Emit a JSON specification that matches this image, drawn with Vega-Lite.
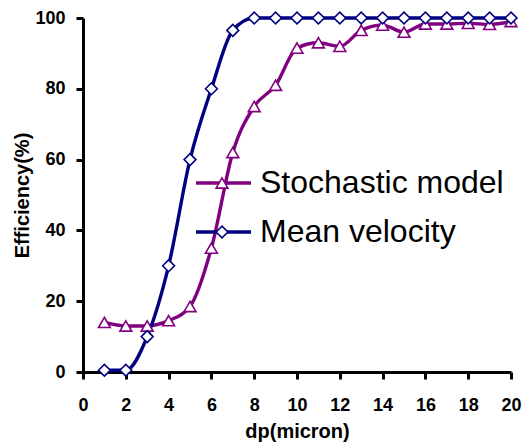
{
  "$schema": "https://vega.github.io/schema/vega-lite/v6.json",
  "width": 428,
  "height": 354,
  "autosize": "none",
  "padding": {"left": 83, "top": 18, "right": 14, "bottom": 75},
  "background": "white",
  "config": {
    "view": {"stroke": null},
    "font": "Liberation Sans",
    "axis": {
      "grid": false,
      "labelFlush": false,
      "domainColor": "black",
      "domainWidth": 3,
      "tickColor": "black",
      "tickWidth": 3,
      "tickSize": 7,
      "labelFont": "Liberation Sans",
      "labelFontWeight": "bold",
      "labelFontSize": 18,
      "labelColor": "black",
      "titleFont": "Liberation Sans",
      "titleFontWeight": "bold",
      "titleFontSize": 20,
      "titleColor": "black"
    }
  },
  "data": {
    "values": [
      {"dp": 1, "eff": 14, "series": "Stochastic model"},
      {"dp": 2, "eff": 13, "series": "Stochastic model"},
      {"dp": 3, "eff": 13, "series": "Stochastic model"},
      {"dp": 4, "eff": 14.5, "series": "Stochastic model"},
      {"dp": 5, "eff": 18.5, "series": "Stochastic model"},
      {"dp": 6, "eff": 35, "series": "Stochastic model"},
      {"dp": 7, "eff": 62, "series": "Stochastic model"},
      {"dp": 8, "eff": 75, "series": "Stochastic model"},
      {"dp": 9, "eff": 81, "series": "Stochastic model"},
      {"dp": 10, "eff": 91.5, "series": "Stochastic model"},
      {"dp": 11, "eff": 93, "series": "Stochastic model"},
      {"dp": 12, "eff": 92, "series": "Stochastic model"},
      {"dp": 13, "eff": 96.5, "series": "Stochastic model"},
      {"dp": 14, "eff": 98, "series": "Stochastic model"},
      {"dp": 15, "eff": 96, "series": "Stochastic model"},
      {"dp": 16, "eff": 98.3, "series": "Stochastic model"},
      {"dp": 17, "eff": 98.3, "series": "Stochastic model"},
      {"dp": 18, "eff": 98.5, "series": "Stochastic model"},
      {"dp": 19, "eff": 98.2, "series": "Stochastic model"},
      {"dp": 20, "eff": 99, "series": "Stochastic model"},
      {"dp": 1, "eff": 0.5, "series": "Mean velocity"},
      {"dp": 2, "eff": 0.5, "series": "Mean velocity"},
      {"dp": 3, "eff": 10, "series": "Mean velocity"},
      {"dp": 4, "eff": 30, "series": "Mean velocity"},
      {"dp": 5, "eff": 60, "series": "Mean velocity"},
      {"dp": 6, "eff": 80, "series": "Mean velocity"},
      {"dp": 7, "eff": 96.5, "series": "Mean velocity"},
      {"dp": 8, "eff": 100, "series": "Mean velocity"},
      {"dp": 9, "eff": 100, "series": "Mean velocity"},
      {"dp": 10, "eff": 100, "series": "Mean velocity"},
      {"dp": 11, "eff": 100, "series": "Mean velocity"},
      {"dp": 12, "eff": 100, "series": "Mean velocity"},
      {"dp": 13, "eff": 100, "series": "Mean velocity"},
      {"dp": 14, "eff": 100, "series": "Mean velocity"},
      {"dp": 15, "eff": 100, "series": "Mean velocity"},
      {"dp": 16, "eff": 100, "series": "Mean velocity"},
      {"dp": 17, "eff": 100, "series": "Mean velocity"},
      {"dp": 18, "eff": 100, "series": "Mean velocity"},
      {"dp": 19, "eff": 100, "series": "Mean velocity"},
      {"dp": 20, "eff": 100, "series": "Mean velocity"}
    ]
  },
  "encoding": {
    "x": {
      "field": "dp",
      "type": "quantitative",
      "scale": {"domain": [0, 20], "nice": false},
      "axis": {"values": [0, 2, 4, 6, 8, 10, 12, 14, 16, 18, 20], "title": "dp(micron)", "labelPadding": 17, "titlePadding": 7}
    },
    "y": {
      "field": "eff",
      "type": "quantitative",
      "scale": {"domain": [0, 100], "nice": false},
      "axis": {"values": [0, 20, 40, 60, 80, 100], "title": "Efficiency(%)", "labelPadding": 11, "titlePadding": 2}
    }
  },
  "layer": [
    {
      "mark": {"type": "line", "interpolate": "monotone", "strokeWidth": 3.4},
      "encoding": {
        "color": {
          "field": "series",
          "type": "nominal",
          "scale": {"domain": ["Stochastic model", "Mean velocity"], "range": ["#800080", "#000080"]},
          "legend": {
            "title": null,
            "orient": "none",
            "legendX": 111,
            "legendY": 145,
            "symbolType": "stroke",
            "symbolSize": 3025,
            "clipHeight": 40,
            "rowPadding": 9,
            "labelFont": "Liberation Sans",
            "labelFontSize": 32,
            "labelLimit": 400,
            "labelColor": "black",
            "labelOffset": 7,
            "symbolStrokeWidth": 3.5,
            "zindex": 1
          }
        }
      }
    },
    {
      "mark": {"type": "point", "filled": false, "fill": "white", "fillOpacity": 1, "opacity": 1, "strokeWidth": 1.6, "size": 140},
      "encoding": {
        "stroke": {
          "field": "series",
          "type": "nominal",
          "scale": {"domain": ["Stochastic model", "Mean velocity", "none"], "range": ["#800080", "#000080", "#ffffff"]},
          "legend": {
            "values": ["Stochastic model", "Mean velocity"],
            "title": null,
            "orient": "none",
            "legendX": 123,
            "legendY": 145,
            "symbolSize": 140,
            "clipHeight": 40,
            "rowPadding": 9,
            "labelFontSize": 32,
            "labelExpr": "''",
            "symbolFillColor": "white",
            "symbolStrokeWidth": 1.6,
            "symbolOpacity": 1,
            "zindex": 2
          }
        },
        "shape": {
          "field": "series",
          "type": "nominal",
          "scale": {"domain": ["Stochastic model", "Mean velocity", "none"], "range": ["triangle-up", "diamond", "circle"]},
          "legend": {
            "values": ["Stochastic model", "Mean velocity"],
            "title": null,
            "orient": "none",
            "legendX": 123,
            "legendY": 145,
            "symbolSize": 140,
            "clipHeight": 40,
            "rowPadding": 9,
            "labelFontSize": 32,
            "labelExpr": "''",
            "symbolFillColor": "white",
            "symbolStrokeWidth": 1.6,
            "symbolOpacity": 1,
            "zindex": 2
          }
        }
      }
    }
  ]
}
